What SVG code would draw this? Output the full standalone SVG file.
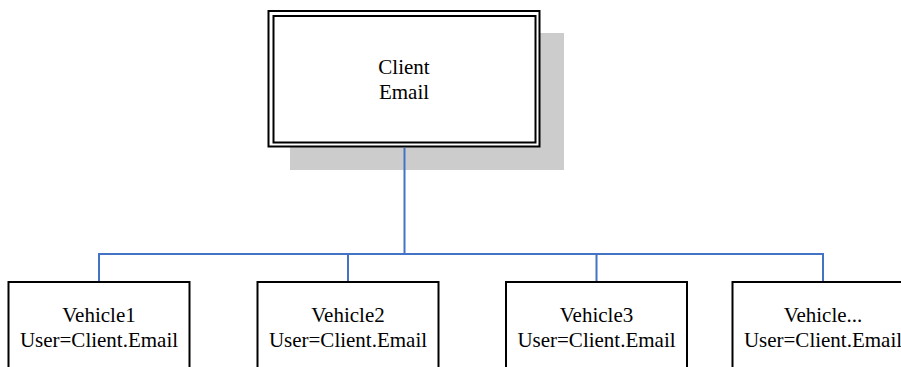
<svg xmlns="http://www.w3.org/2000/svg" width="901" height="367" viewBox="0 0 901 367">
<style>
  .box { fill: #fff; stroke: #000; stroke-width: 2; }
  .txt { font-family: "Liberation Serif", "Times New Roman", serif; font-size: 21px; fill: #000; text-anchor: middle; }
  .conn { fill: none; stroke: #4472C4; stroke-width: 2; }
</style>
<rect width="901" height="367" fill="#fff"/>
<g id="client">
  <rect x="290" y="33" width="274" height="137" fill="#cccccc"/>
  <rect x="268.5" y="11" width="271" height="135.5" class="box"/>
  <rect x="273.5" y="16" width="262" height="126.5" fill="none" stroke="#000" stroke-width="2"/>
  <text class="txt" x="404" y="73.5">Client</text>
  <text class="txt" x="404" y="98.5">Email</text>
</g>
<g id="connectors">
  <path class="conn" d="M404.5 147.5 V254 M99 254 H823 M99 253 V282 M348 253 V282 M596.5 253 V282 M823 253 V282"/>
</g>
<g id="vehicle1">
  <rect x="8.5" y="282" width="181" height="100" class="box"/>
  <text class="txt" x="99" y="322">Vehicle1</text>
  <text class="txt" x="99" y="346.5">User=Client.Email</text>
</g>
<g id="vehicle2">
  <rect x="257.5" y="282" width="181" height="100" class="box"/>
  <text class="txt" x="348" y="322">Vehicle2</text>
  <text class="txt" x="348" y="346.5">User=Client.Email</text>
</g>
<g id="vehicle3">
  <rect x="506" y="282" width="181" height="100" class="box"/>
  <text class="txt" x="596.5" y="322">Vehicle3</text>
  <text class="txt" x="596.5" y="346.5">User=Client.Email</text>
</g>
<g id="vehicle4">
  <rect x="732.5" y="282" width="181" height="100" class="box"/>
  <text class="txt" x="823" y="322">Vehicle...</text>
  <text class="txt" x="823" y="346.5">User=Client.Email</text>
</g>
</svg>
